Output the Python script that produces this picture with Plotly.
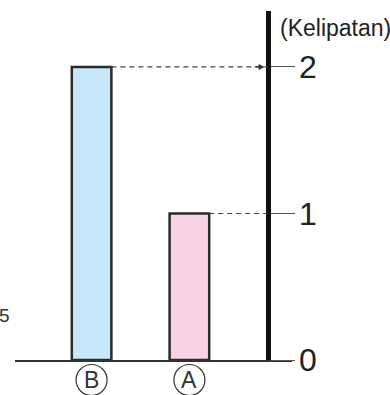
import plotly.graph_objects as go

# Data
categories = ["B", "A"]
values = [2, 1]
bar_colors = ["#c6e8f8", "#f8d3e5"]
y_ticks = [0, 1, 2]
y_label = "(Kelipatan)"
stray_text = "5"

W, H = 390, 395
BAR_W = 0.405
X_RANGE = [-0.783, 2.049]
X_DOMAIN = [15 / W, 292 / W]
AXIS_X = 1.799
Y_RANGE = [0, 2.382]
PLOT_H = 349  # pixel height of the plot area
CIRCLE_R_X = 15.5 / 97.8
CIRCLE_CY = -20 / PLOT_H
CIRCLE_R_Y = 15.5 / PLOT_H

FONT = "Liberation Sans, Arial, sans-serif"

xs = list(range(len(categories)))
fig = go.Figure()
fig.add_trace(go.Bar(
    x=xs, y=values, width=BAR_W,
    marker=dict(color=bar_colors, line=dict(color="#2b2b2b", width=2.5)),
    hoverinfo="skip",
))

ypos = X_DOMAIN[0] + (AXIS_X - X_RANGE[0]) / (X_RANGE[1] - X_RANGE[0]) * (X_DOMAIN[1] - X_DOMAIN[0])

# dashed guide lines from bar tops to the axis
for x, v in zip(xs, values):
    fig.add_shape(type="line", xref="x", yref="y",
                  x0=x + BAR_W / 2, x1=AXIS_X, y0=v, y1=v,
                  line=dict(color="#444444", width=1.2, dash="5px,4px"))
# arrow head on the tallest bar's guide
imax = values.index(max(values))
fig.add_annotation(x=AXIS_X, y=values[imax], xref="x", yref="y",
                   ax=-14, ay=0, text="", showarrow=True,
                   arrowhead=2, arrowsize=1, arrowwidth=1.2, arrowcolor="#333333",
                   standoff=3)

# circled category labels
for x, c in zip(xs, categories):
    fig.add_shape(type="circle", xref="x", yref="paper",
                  x0=x - CIRCLE_R_X, x1=x + CIRCLE_R_X,
                  y0=CIRCLE_CY - CIRCLE_R_Y, y1=CIRCLE_CY + CIRCLE_R_Y,
                  line=dict(color="#333333", width=1.2), fillcolor="rgba(0,0,0,0)")
    fig.add_annotation(x=x, y=CIRCLE_CY, xref="x", yref="paper", text=c,
                       showarrow=False, xanchor="center", yanchor="middle",
                       font=dict(family=FONT, size=23, color="#333333"))

fig.add_annotation(x=278 / W, y=(360 - 28) / PLOT_H, xref="paper", yref="paper",
                   text=y_label, showarrow=False, xanchor="left", yanchor="middle",
                   font=dict(family=FONT, size=23, color="#222222"))
fig.add_annotation(x=-3 / W, y=(360 - 315) / PLOT_H, xref="paper", yref="paper",
                   text=stray_text, showarrow=False, xanchor="left", yanchor="middle",
                   font=dict(family=FONT, size=19, color="#333333"))

fig.update_layout(
    width=W, height=H,
    margin=dict(l=0, r=0, t=11, b=35, pad=0),
    paper_bgcolor="white", plot_bgcolor="white",
    showlegend=False,
    xaxis=dict(range=X_RANGE, domain=X_DOMAIN, tickvals=xs, showticklabels=False,
               showgrid=False, zeroline=False, showline=True, linecolor="#333333",
               linewidth=1.5, ticks="", fixedrange=True),
    yaxis=dict(range=Y_RANGE, anchor="free", position=ypos, side="right",
               tickvals=y_ticks, ticks="outside", ticklen=24, tickwidth=1.2, tickcolor="#555555",
               ticklabelstandoff=-2,
               showline=True, linecolor="#111111", linewidth=5,
               showgrid=False, zeroline=False,
               tickfont=dict(family=FONT, size=32, color="#222222"), fixedrange=True),
)

fig.write_html("out.html", config={"displayModeBar": False},
               post_script="document.body.style.margin='0';")
